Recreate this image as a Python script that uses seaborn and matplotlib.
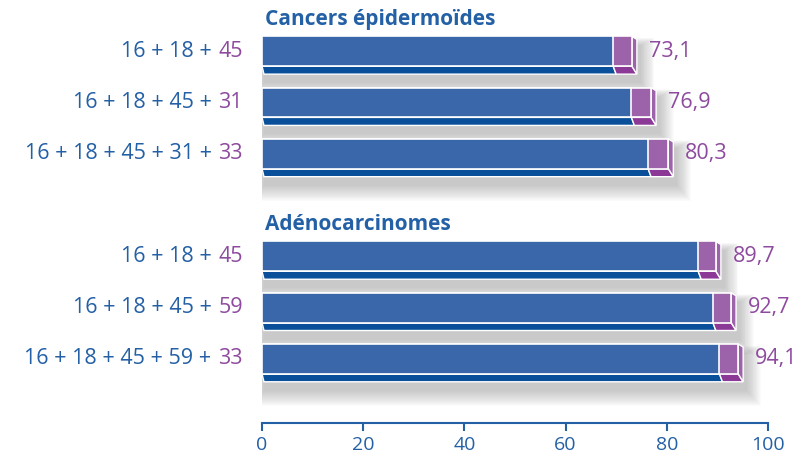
import matplotlib.pyplot as plt
import matplotlib.patches as mpatches
import seaborn as sns
import pandas as pd

# Colours
BLUE = '#3967aa'
BLUE_DARK = '#0a4f99'
PURPLE = '#9d63aa'
PURPLE_DARK = '#8b3897'
TEXT_BLUE = '#2460a5'
TEXT_PURPLE = '#8e4a9e'

# Data
group_titles = ['Cancers épidermoïdes', 'Adénocarcinomes']
group_of = [0, 0, 0, 1, 1, 1]
prefixes = ['16 + 18', '16 + 18 + 45', '16 + 18 + 45 + 31',
            '16 + 18', '16 + 18 + 45', '16 + 18 + 45 + 59']
added_types = ['45', '31', '33', '45', '59', '33']
totals = [73.1, 76.9, 80.3, 89.7, 92.7, 94.1]
increments = [3.7, 3.9, 4.0, 3.5, 3.6, 3.7]
x_ticks = [0, 20, 40, 60, 80, 100]

keys = [f'{group_of[i]}|{prefixes[i]} + {added_types[i]}' for i in range(6)]
order = keys[:3] + ['spacer'] + keys[3:]
df = pd.DataFrame({
    'key': keys,
    'total': totals,
    'base': [t - d for t, d in zip(totals, increments)],
})

sns.set_style('white')
plt.rcParams['font.family'] = ['Open Sans', 'DejaVu Sans']

W, H = 805, 461
fig = plt.figure(figsize=(W / 100, H / 100), dpi=100)
ax = fig.add_axes([262 / W, 38 / H, 506 / W, 423 / H])
YLIM = (7.25, -1.0)
ax.set_xlim(0, 100)

# pixel -> data helpers
PX = 100 / 506
PY = (YLIM[0] - YLIM[1]) / 423

sns.barplot(data=df, x='total', y='key', order=order, color=PURPLE, saturation=1,
            width=0.58, orient='h', edgecolor='white', linewidth=1.2, ax=ax)
sns.barplot(data=df, x='base', y='key', order=order, color=BLUE, saturation=1,
            width=0.58, orient='h', edgecolor='white', linewidth=1.2, ax=ax)
ax.set_ylim(*YLIM)

purple_bars = {round(b.get_y() + b.get_height() / 2): b for b in ax.containers[0]}
blue_bars = {round(b.get_y() + b.get_height() / 2): b for b in ax.containers[1]}

dx, ds, db = 5 * PX, 3 * PY, 8 * PY
for pos, pb in purple_bars.items():
    bb = blue_bars[pos]
    pb.set_zorder(4)
    bb.set_zorder(5)
    x0 = pb.get_x()
    xe = pb.get_x() + pb.get_width()
    xb = bb.get_x() + bb.get_width()
    yt = pb.get_y()
    yb = pb.get_y() + pb.get_height()

    # soft drop shadow
    for k in range(16):
        ax.add_patch(mpatches.Rectangle(
            (x0 - (k * 0.9 - 2) * PX, yt + (9 - k * 0.5) * PY),
            (xe - x0) + dx + (1.8 * k + 2) * PX, (yb - yt) + db + (1.5 * k) * PY,
            facecolor='#7a7a7a', edgecolor='none', alpha=0.028, zorder=1))

    # bottom face (blue then purple)
    ax.add_patch(mpatches.Polygon(
        [(x0, yb), (xb, yb), (xb + dx * 0.6, yb + db), (x0 + 2 * PX, yb + db)],
        closed=True, facecolor=BLUE_DARK, edgecolor='white', lw=1, zorder=3))
    ax.add_patch(mpatches.Polygon(
        [(xb, yb), (xe, yb), (xe + dx, yb + db), (xb + dx * 0.6, yb + db)],
        closed=True, facecolor=PURPLE_DARK, edgecolor='white', lw=1, zorder=3))
    # side face
    ax.add_patch(mpatches.Polygon(
        [(xe, yt), (xe + dx, yt + ds), (xe + dx, yb + db), (xe, yb)],
        closed=True, facecolor=PURPLE, edgecolor='white', lw=1, zorder=3))

# value labels and rich category labels
for i, key in enumerate(keys):
    y = order.index(key)
    ax.text(totals[i] + dx + 12 * PX, y, f'{totals[i]:.1f}'.replace('.', ','),
            color=TEXT_PURPLE, fontsize=15.5, ha='left', va='center', clip_on=False)
    t = ax.text(-19 * PX, y, added_types[i], color=TEXT_PURPLE, fontsize=15.5,
                ha='right', va='center', clip_on=False)
    ax.annotate(prefixes[i] + ' +', xy=(0, 0.5), xycoords=t, xytext=(-5, 0),
                textcoords='offset points', color=TEXT_BLUE, fontsize=15.5,
                ha='right', va='center', annotation_clip=False)

# group titles
ax.text(0.6, -0.62, group_titles[0], color=TEXT_BLUE, fontsize=15,
        fontweight='bold', ha='left', va='center', clip_on=False)
ax.text(0.6, 3.38, group_titles[1], color=TEXT_BLUE, fontsize=15,
        fontweight='bold', ha='left', va='center', clip_on=False)

# axes styling
sns.despine(ax=ax, left=True)
ax.spines['bottom'].set_color(TEXT_BLUE)
ax.spines['bottom'].set_linewidth(1.5)
ax.set_yticks([])
ax.set_xticks(x_ticks)
ax.set_xticklabels([str(v) for v in x_ticks])
ax.tick_params(axis='x', colors=TEXT_BLUE, length=6, width=1.5,
               labelsize=14, pad=3, direction='out', bottom=True)
ax.set_xlabel('')
ax.set_ylabel('')

fig.savefig('out.png', dpi=100)
